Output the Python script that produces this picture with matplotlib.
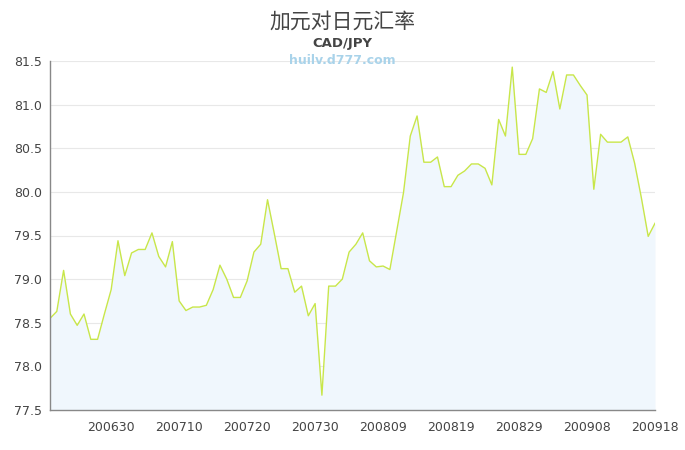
import matplotlib
matplotlib.use("Agg")
import matplotlib.pyplot as plt

plt.rcParams['font.family'] = ['DejaVu Sans', 'Noto Sans CJK SC']

values = [
    78.55, 78.63, 79.10, 78.60, 78.47, 78.60, 78.31, 78.31, 78.60, 78.88,
    79.44, 79.04, 79.30, 79.34, 79.34, 79.53, 79.26, 79.14, 79.43, 78.75,
    78.64, 78.68, 78.68, 78.70, 78.88, 79.16, 79.00, 78.79, 78.79, 78.98,
    79.31, 79.40, 79.91, 79.52, 79.12, 79.12, 78.85, 78.92, 78.58, 78.72,
    77.67, 78.92, 78.92, 79.00, 79.31, 79.40, 79.53, 79.21, 79.14, 79.15,
    79.11, 79.55, 79.99, 80.64, 80.87, 80.34, 80.34, 80.40, 80.06, 80.06,
    80.19, 80.24, 80.32, 80.32, 80.27, 80.08, 80.83, 80.64, 81.43, 80.43,
    80.43, 80.61, 81.18, 81.14, 81.38, 80.95, 81.34, 81.34, 81.22, 81.11,
    80.03, 80.66, 80.57, 80.57, 80.57, 80.63, 80.33, 79.93, 79.49, 79.64,
]
tick_positions = [9, 19, 29, 39, 49, 59, 69, 79, 89]
tick_labels = ["200630", "200710", "200720", "200730", "200809",
               "200819", "200829", "200908", "200918"]
y_ticks = [77.5, 78.0, 78.5, 79.0, 79.5, 80.0, 80.5, 81.0, 81.5]

title = "加元对日元汇率"
subtitle = "CAD/JPY"
watermark = "huilv.d777.com"

fig = plt.figure(figsize=(6.85, 4.5), dpi=100)
ax = fig.add_axes([50/685, 40/450, 605/685, 349/450])

x = list(range(len(values)))
ax.fill_between(x, values, 77.5, color="#f0f7fd", linewidth=0)
ax.plot(x, values, color="#c8e64a", linewidth=1.0)

ax.set_xlim(0, len(values) - 1)
ax.set_ylim(77.5, 81.5)
ax.set_yticks(y_ticks)
ax.set_yticklabels([f"{v:.1f}" for v in y_ticks])
ax.set_xticks(tick_positions)
ax.set_xticklabels(tick_labels)
ax.tick_params(axis='both', length=0, labelsize=9, colors="#444444")
ax.tick_params(axis='x', pad=8)
ax.tick_params(axis='y', pad=6)
ax.grid(axis='y', color="#e8e8e8", linewidth=0.8)
ax.set_axisbelow(True)
for s in ["top", "right"]:
    ax.spines[s].set_visible(False)
for s in ["left", "bottom"]:
    ax.spines[s].set_color("#888888")
    ax.spines[s].set_linewidth(1.0)

fig.text(0.5, 1 - 22/450, title, ha='center', va='center', fontsize=15,
         color="#444444", family=['Noto Sans CJK SC', 'DejaVu Sans'])
fig.text(0.5, 1 - 44/450, subtitle, ha='center', va='center', fontsize=9.5,
         fontweight='bold', color="#444444")
fig.text(0.5, 1 - 61/450, watermark, ha='center', va='center', fontsize=9,
         fontweight='bold', color="#a9d3ea")

fig.savefig("out.png", dpi=100)
